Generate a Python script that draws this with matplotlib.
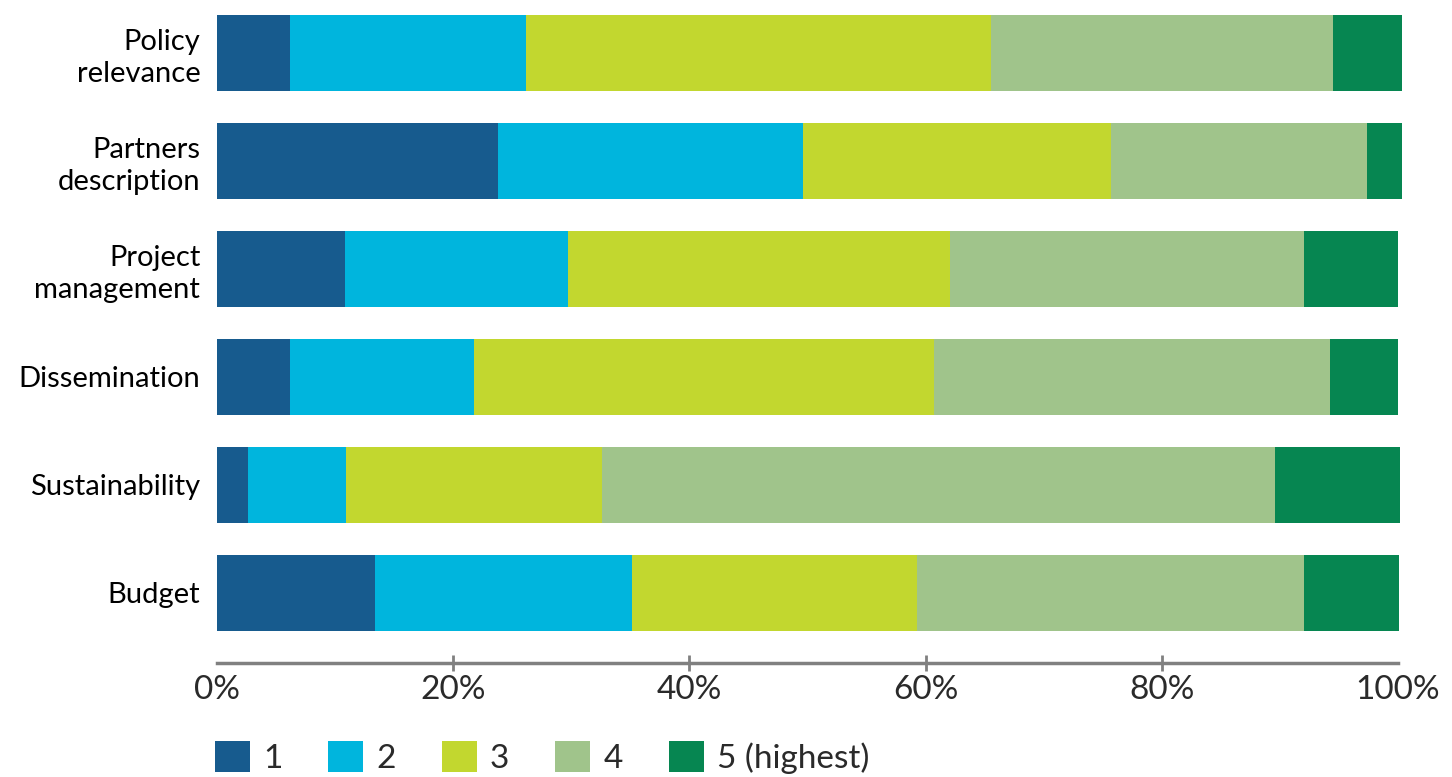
import matplotlib.pyplot as plt
import matplotlib
from matplotlib.patches import Patch
import numpy as np

matplotlib.rcParams['figure.dpi'] = 100

categories = ['Policy\nrelevance', 'Partners\ndescription', 'Project\nmanagement',
              'Dissemination', 'Sustainability', 'Budget']
score_labels = ['1', '2', '3', '4', '5 (highest)']
# share of ratings per score (%), one list per score
score_1 = [6.2, 23.8, 10.8, 6.2, 2.6, 13.4]
score_2 = [20.0, 25.8, 18.9, 15.6, 8.3, 21.7]
score_3 = [39.3, 26.1, 32.4, 38.9, 21.7, 24.2]
score_4 = [29.0, 21.7, 29.9, 33.5, 57.0, 32.7]
score_5 = [5.8, 2.9, 8.0, 5.8, 10.6, 8.1]
xticks = [0, 20, 40, 60, 80, 100]

colors = ['#175b8e', '#00b5dd', '#c2d72f', '#a0c48b', '#068651']

fig = plt.figure(figsize=(14.52, 7.77))
ax = fig.add_axes([217/1452, 1-663/777, 1181/1452, 663/777])

y = np.arange(len(categories))
left = np.zeros(len(categories))
for vals, col, lab in zip([score_1, score_2, score_3, score_4, score_5], colors, score_labels):
    ax.barh(y, vals, left=left, height=0.7, color=col, label=lab, edgecolor='none', clip_on=False)
    left += np.array(vals)

ax.set_ylim(5.65, -0.49)
ax.set_xlim(0, 100)
ax.set_yticks(y)
ax.set_yticklabels(categories, fontsize=21, family='Lato', linespacing=1.25)
ax.tick_params(axis='y', length=0, pad=12)
ax.set_xticks(xticks)
ax.set_xticklabels([f'{t}%' for t in xticks], fontsize=24, family='Lato', color='#2a2a2a')
ax.tick_params(axis='x', length=11, width=2, color='#808080', direction='inout', pad=3)
for t in ax.xaxis.get_major_ticks():
    if t.get_loc() in (0, 100):
        t.tick1line.set_visible(False)
for s in ['top', 'right', 'left']:
    ax.spines[s].set_visible(False)
ax.spines['bottom'].set_color('#808080')
ax.spines['bottom'].set_linewidth(2.5)

handles = [Patch(facecolor=c, edgecolor='none') for c in colors]
fig.legend(handles, score_labels, loc='upper left', bbox_to_anchor=(215/1452, 1-741/777),
           ncol=5, frameon=False, handlelength=1.05, handleheight=1.05,
           handletextpad=0.39, columnspacing=1.38, borderaxespad=0, borderpad=0,
           prop={'family': 'Lato', 'size': 24})
for txt in fig.legends[0].get_texts():
    txt.set_color('#2a2a2a')

fig.savefig('out.png', dpi=100)
